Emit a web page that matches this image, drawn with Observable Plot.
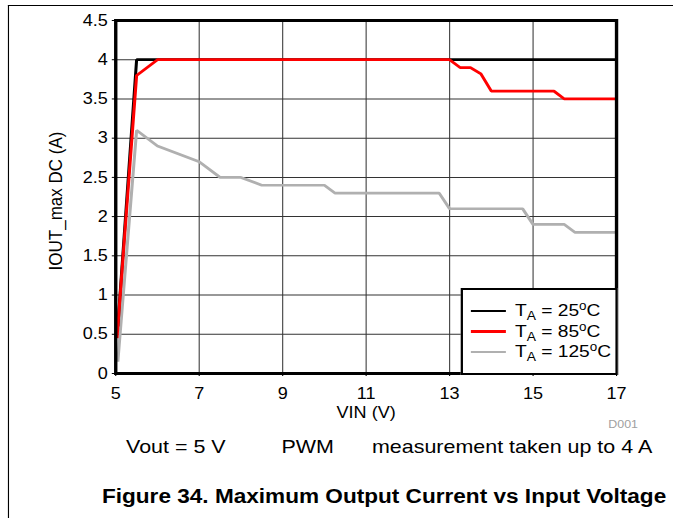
<!DOCTYPE html>
<html><head><meta charset="utf-8">
<script src="https://cdn.jsdelivr.net/npm/d3@7"></script>
<script src="https://cdn.jsdelivr.net/npm/@observablehq/plot@0.6"></script>
<style>
html,body{margin:0;padding:0;background:#fff;}
#page{position:relative;width:673px;height:518px;overflow:hidden;background:#fff;}
#inner{position:absolute;left:0;top:0;width:596px;height:518px;transform-origin:0 0;transform:scaleX(1.1292);font-family:"Liberation Sans",Arial,sans-serif;color:#000;}
.abs{position:absolute;white-space:nowrap;line-height:1;}
sub{font-size:0.72em;vertical-align:-0.32em;line-height:0;}
sup{font-size:0.7em;vertical-align:0.5em;line-height:0;}
</style></head><body>
<div id="page"><div id="inner">
  <div id="chart" class="abs" style="left:0;top:0"></div>
  <div id="legend"></div>
  <div class="abs" style="right:31px;top:419px;font-size:11px;color:#a0a0a0">D001</div>
  <div id="sub1" class="abs" style="left:111.6px;top:436.5px;font-size:19px"></div>
  <div id="sub2" class="abs" style="left:249.3px;top:436.5px;font-size:19px"></div>
  <div id="sub3" class="abs" style="left:329.4px;top:436.5px;font-size:19px"></div>
  <div id="title" class="abs" style="left:90.3px;top:486px;font-size:20px;font-weight:bold"></div>
  <div class="abs" style="left:7px;top:5px;width:589px;height:0;border-top:1.5px solid #000"></div>
  <div class="abs" style="left:7px;top:5px;width:0;height:513px;border-left:1.3px solid #000"></div>
</div></div>
<script>
// ---- data ----
const xTicks = [5, 7, 9, 11, 13, 15, 17];
const yTicks = [0, 0.5, 1, 1.5, 2, 2.5, 3, 3.5, 4, 4.5];

const vin25  = [5.05, 5.5, 17];
const iout25 = [0.6, 4.0, 4.0];

const vin85  = [5.03, 5.5, 6.0, 13.0, 13.25, 13.5, 13.75, 14.0, 15.5, 15.75, 17.0];
const iout85 = [0.45, 3.8, 4.0, 4.0, 3.9, 3.9, 3.82, 3.6, 3.6, 3.5, 3.5];

const vin125  = [5.05, 5.5, 6.0, 7.0, 7.5, 8.0, 8.5, 10.0, 10.25, 12.75, 13.0, 14.75, 15.0, 15.75, 16.0, 17.0];
const iout125 = [0.15, 3.1, 2.9, 2.7, 2.5, 2.5, 2.4, 2.4, 2.3, 2.3, 2.1, 2.1, 1.9, 1.9, 1.8, 1.8];

const seriesTemps  = ["25", "85", "125"];
const seriesColors = ["#000000", "#ff0000", "#b0b0b0"];

const xLabel = "VIN (V)";
const yLabel = "IOUT_max DC (A)";
const subtitleParts = ["Vout = 5 V", "PWM", "measurement taken up to 4 A"];
const titleText = "Figure 34. Maximum Output Current vs Input Voltage";

// ---- build ----
const toRows = (xs, ys) => xs.map((x, i) => ({vin: x, iout: ys[i]}));
const rows25 = toRows(vin25, iout25);
const rows85 = toRows(vin85, iout85);
const rows125 = toRows(vin125, iout125);

const lineOpts = c => ({x: "vin", y: "iout", stroke: c, strokeWidth: 2.7, strokeLinejoin: "miter", strokeLinecap: "butt"});

const chart = Plot.plot({
  width: 596,
  height: 430,
  marginLeft: 102,
  marginRight: 50.5,
  marginTop: 20,
  marginBottom: 57,
  x: {type: "linear", domain: [5, 17]},
  y: {type: "linear", domain: [0, 4.5]},
  style: {fontFamily: "'Liberation Sans', Arial, sans-serif", fontSize: "16px", color: "#000", background: "transparent", overflow: "visible"},
  marks: [
    Plot.gridX(xTicks, {stroke: "#444", strokeOpacity: 1, strokeWidth: 1}),
    Plot.gridY(yTicks, {stroke: "#333", strokeOpacity: 1, strokeWidth: 1}),
    Plot.line(rows125, lineOpts(seriesColors[2])),
    Plot.line(rows25, lineOpts(seriesColors[0])),
    Plot.line(rows85, lineOpts(seriesColors[1])),
    Plot.frame({stroke: "#000", strokeWidth: 3}),
    Plot.axisX(xTicks, {tickSize: 3, tickPadding: 11.5, tickFormat: d => String(d), label: null, fontSize: 16}),
    Plot.axisY(yTicks, {tickSize: 3, tickPadding: 4, tickFormat: d => String(d), label: null, fontSize: 16}),
    Plot.text([xLabel], {frameAnchor: "bottom", dy: 39, text: d => d, textAnchor: "middle", lineAnchor: "middle", fontSize: 16}),
    Plot.text([yLabel], {frameAnchor: "left", dx: -53, dy: 4, text: d => d, rotate: -90, textAnchor: "middle", lineAnchor: "middle", fontSize: 17})
  ]
});
document.getElementById("chart").appendChild(chart);

// legend
const legend = document.getElementById("legend");
const box = document.createElement("div");
box.className = "abs";
box.style.cssText = "left:408px;top:288px;width:139px;height:86.5px;box-sizing:border-box;border:2.5px solid #000;background:#fff;";
legend.appendChild(box);
const rowY = [311, 331.5, 352];
seriesTemps.forEach((t, i) => {
  const sw = document.createElement("div");
  sw.className = "abs";
  sw.style.cssText = `left:417px;top:${rowY[i] - 1.35}px;width:31px;height:2.7px;background:${seriesColors[i]};`;
  legend.appendChild(sw);
  const lb = document.createElement("div");
  lb.className = "abs";
  lb.style.cssText = `left:456px;top:${rowY[i] - 9}px;font-size:17px;line-height:18px;`;
  lb.innerHTML = `T<sub>A</sub> = ${t}<sup>o</sup>C`;
  legend.appendChild(lb);
});

document.getElementById("sub1").textContent = subtitleParts[0];
document.getElementById("sub2").textContent = subtitleParts[1];
document.getElementById("sub3").textContent = subtitleParts[2];
document.getElementById("title").textContent = titleText;
</script>
</body></html>
